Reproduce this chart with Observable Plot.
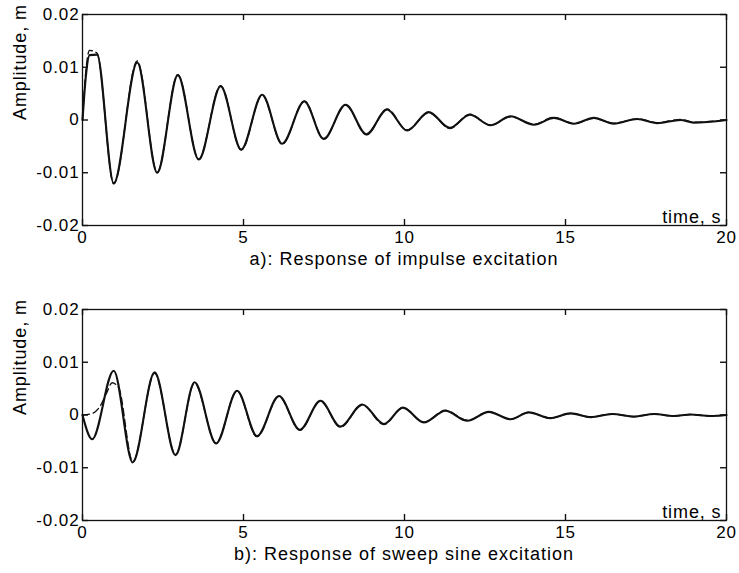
<!DOCTYPE html>
<html>
<head>
<meta charset="utf-8">
<script src="https://cdn.jsdelivr.net/npm/d3@7"></script>
<script src="https://cdn.jsdelivr.net/npm/@observablehq/plot@0.6"></script>
<style>
  html, body { margin: 0; padding: 0; background: #fff; }
  #wrap { position: relative; width: 739px; height: 573px; background: #fff; overflow: hidden; }
  .panel { position: absolute; left: 0; }
  .cap { position: absolute; left: 82px; width: 644px; text-align: center;
         font-family: "Liberation Sans", Arial, sans-serif; font-size: 18px; line-height: 22px;
         letter-spacing: 1px; color: #000; }
  svg text { letter-spacing: 0.9px; }
</style>
</head>
<body>
<div id="wrap">
  <div id="pa" class="panel" style="top:0px"></div>
  <div class="cap" style="top:248px">a): Response of impulse excitation</div>
  <div id="pb" class="panel" style="top:295px"></div>
  <div class="cap" style="top:543px">b): Response of sweep sine excitation</div>
</div>
<script>
// ---- data ----
const xTicks = [0, 5, 10, 15, 20];
const xTickLabels = ["0", "5", "10", "15", "20"];
const yTicks = [-0.02, -0.01, 0, 0.01, 0.02];
const yTickLabels = ["-0.02", "-0.01", "0", "0.01", "0.02"];
const yLabel = "Amplitude, m";
const xLabel = "time, s";

// panel a: impulse excitation
const aTimes = [0, 0.1, 0.22, 0.45, 0.97, 1.70, 2.32, 2.96, 3.61, 4.29,
  4.93, 5.58, 6.20, 6.89, 7.49, 8.17, 8.82, 9.46, 10.08, 10.75,
  11.41, 12.03, 12.67, 13.29, 14.02, 14.64, 15.26, 15.88, 16.50, 17.23,
  17.85, 18.57, 18.98, 20];
const aSolid = [0, 0.008, 0.0123, 0.0124, -0.0120, 0.0109, -0.0100, 0.0085, -0.0075, 0.0064,
  -0.0056, 0.0048, -0.0045, 0.0035, -0.0036, 0.0029, -0.0027, 0.0020, -0.0020, 0.0015,
  -0.0015, 0.0010, -0.0010, 0.0007, -0.0009, 0.0004, -0.0007, 0.0004, -0.0007, 0.0002,
  -0.0006, 0.0000, -0.0005, 0.0000];
const aDashed = [0, 0.009, 0.0132, 0.0127, -0.0121, 0.0112, -0.0099, 0.0086, -0.0074, 0.0065,
  -0.0057, 0.0047, -0.0046, 0.0036, -0.0035, 0.0028, -0.0028, 0.0021, -0.0019, 0.0014,
  -0.0016, 0.0011, -0.0010, 0.0006, -0.0008, 0.0005, -0.0007, 0.0003, -0.0006, 0.0002,
  -0.0005, 0.0001, -0.0004, 0.0000];

// panel b: sweep sine excitation
const bTimes = [0, 0.30, 0.97, 1.56, 2.24, 2.89, 3.48, 4.15, 4.80, 5.42,
  6.10, 6.75, 7.39, 8.01, 8.69, 9.36, 9.95, 10.60, 11.27, 11.95,
  12.62, 13.29, 13.86, 14.53, 15.16, 15.78, 16.45, 17.12, 17.75, 18.36,
  18.88, 19.50, 20];
const bSolid = [0, -0.0046, 0.0084, -0.0090, 0.0081, -0.0076, 0.0062, -0.0054, 0.0046, -0.0040,
  0.0036, -0.0028, 0.0027, -0.0022, 0.0020, -0.0017, 0.0014, -0.0014, 0.0008, -0.0011,
  0.0006, -0.0008, 0.0005, -0.0006, 0.0003, -0.0004, 0.0002, -0.0003, 0.0002, -0.0002,
  0.0001, -0.0002, 0.0000];
const bDashedTimes = [0, 0.30, 0.55, 0.75, 0.92, 1.12, 1.56, 2.24, 2.89, 3.48, 4.15,
  4.80, 5.42, 6.10, 6.75, 7.39, 8.01, 8.69, 9.36, 9.95, 10.60,
  11.27, 11.95, 12.62, 13.29, 13.86, 14.53, 15.16, 15.78, 16.45, 17.12,
  17.75, 18.36, 18.88, 19.50, 20];
const bDashed = [0, 0.0003, 0.0017, 0.0042, 0.0061, 0.0052, -0.0088, 0.0079, -0.0075, 0.0060, -0.0053,
  0.0045, -0.0041, 0.0035, -0.0029, 0.0026, -0.0023, 0.0019, -0.0018, 0.0014, -0.0014,
  0.0009, -0.0010, 0.0006, -0.0008, 0.0005, -0.0006, 0.0003, -0.0004, 0.0002, -0.0003,
  0.0002, -0.0002, 0.0001, -0.0002, 0.0000];

// ---- drawing ----
const zip = (ts, vs) => ts.map((t, i) => ({t, v: vs[i]}));
const fx = d => xTickLabels[xTicks.indexOf(d)];
const fy = d => yTickLabels[yTicks.indexOf(d)];

const W = 739, H = 249, ML = 82, MR = 13, MT = 14, MB = 24, TICK = 6;
const innerW = W - ML - MR, innerH = H - MT - MB;
const tickStyle = {stroke: "#111", strokeWidth: 1.4};

function panel(solid, dashed) {
  return Plot.plot({
    width: W, height: H, marginLeft: ML, marginRight: MR, marginTop: MT, marginBottom: MB,
    style: {fontFamily: "'Liberation Sans', Arial, sans-serif", fontSize: "17px", color: "#000", background: "#fff", overflow: "visible"},
    x: {domain: [0, 20]},
    y: {domain: [-0.02, 0.02]},
    marks: [
      Plot.line(solid, {x: "t", y: "v", curve: "monotone-x", stroke: "#111", strokeWidth: 2.1}),
      Plot.line(dashed, {x: "t", y: "v", curve: "monotone-x", stroke: "#111", strokeWidth: 1.4, strokeDasharray: "7,4"}),
      Plot.frame({stroke: "#111", strokeWidth: 1.3}),
      // inward ticks on all four sides
      Plot.tickX(xTicks, {x: d => d, insetTop: innerH - TICK, ...tickStyle}),
      Plot.tickX(xTicks, {x: d => d, insetBottom: innerH - TICK, ...tickStyle}),
      Plot.tickY(yTicks, {y: d => d, insetRight: innerW - TICK, ...tickStyle}),
      Plot.tickY(yTicks, {y: d => d, insetLeft: innerW - TICK, ...tickStyle}),
      Plot.axisX({ticks: xTicks, tickSize: 0, tickPadding: 5, tickFormat: fx, label: null, fontSize: 17}),
      Plot.axisY({ticks: yTicks, tickSize: 0, tickPadding: 3, tickFormat: fy, label: null, fontSize: 17}),
      Plot.text([yLabel], {frameAnchor: "left", rotate: -90, dx: -62, fontSize: 18, text: d => d}),
      Plot.text([xLabel], {frameAnchor: "bottom-right", textAnchor: "end", lineAnchor: "bottom", dx: -5, dy: -3, fontSize: 18, text: d => d})
    ]
  });
}

document.getElementById("pa").appendChild(panel(zip(aTimes, aSolid), zip(aTimes, aDashed)));
document.getElementById("pb").appendChild(panel(zip(bTimes, bSolid), zip(bDashedTimes, bDashed)));
</script>
</body>
</html>
